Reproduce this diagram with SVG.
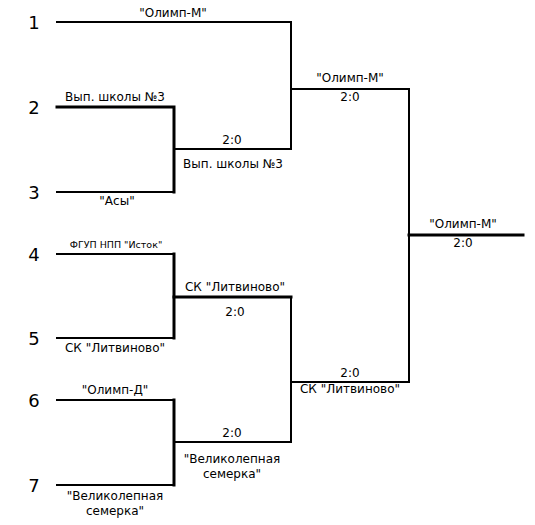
<svg xmlns="http://www.w3.org/2000/svg" width="535" height="525" viewBox="0 0 535 525">
<style>
.bg{fill:#fff}
.ln{stroke:#000;stroke-width:2;fill:none;stroke-linecap:square}
.tk{stroke-width:3}
.num{font-family:"DejaVu Sans","Liberation Sans",sans-serif;font-size:18px;fill:#000;text-anchor:middle}
.lb{font-family:"DejaVu Sans","Liberation Sans",sans-serif;font-size:12px;fill:#000;text-anchor:middle}
.sm{font-size:9.5px}
</style>
<rect class="bg" width="535" height="525"/>
<g id="connectors">
<path class="ln" d="M57 22H291V149H175"/>
<path class="ln tk" d="M57 107H174V192"/>
<path class="ln" d="M57 192H174"/>
<path class="ln" d="M291 89H409V382H291"/>
<path class="ln tk" d="M409 235H523"/>
<path class="ln" d="M57 254H174"/>
<path class="ln tk" d="M174 254V338"/>
<path class="ln" d="M57 338H174"/>
<path class="ln tk" d="M174 297H291"/>
<path class="ln" d="M291 297V442H175"/>
<path class="ln" d="M57 400H174"/>
<path class="ln tk" d="M174 400V485"/>
<path class="ln" d="M57 485H174"/>
</g>
<g id="team1"><text class="num" x="34" y="29">1</text><text class="lb" x="173" y="17">"Олимп-М"</text></g>
<g id="team2"><text class="num" x="34" y="114">2</text><text class="lb" x="115" y="101">Вып. школы №3</text></g>
<g id="team3"><text class="num" x="34" y="199">3</text><text class="lb" x="117" y="205">"Асы"</text></g>
<g id="team4"><text class="num" x="34" y="261">4</text><text class="lb sm" x="116" y="248">ФГУП НПП "Исток"</text></g>
<g id="team5"><text class="num" x="34" y="345">5</text><text class="lb" x="115" y="352">СК "Литвиново"</text></g>
<g id="team6"><text class="num" x="34" y="407">6</text><text class="lb" x="115" y="394">"Олимп-Д"</text></g>
<g id="team7"><text class="num" x="34" y="492">7</text><text class="lb" x="115" y="500">"Великолепная</text><text class="lb" x="115" y="515">семерка"</text></g>
<g id="match23"><text class="lb" x="232" y="144">2:0</text><text class="lb" x="233" y="168">Вып. школы №3</text></g>
<g id="match45"><text class="lb" x="235" y="291">СК "Литвиново"</text><text class="lb" x="235" y="316">2:0</text></g>
<g id="match67"><text class="lb" x="232" y="437">2:0</text><text class="lb" x="232" y="463">"Великолепная</text><text class="lb" x="232" y="478">семерка"</text></g>
<g id="semi1"><text class="lb" x="350" y="82">"Олимп-М"</text><text class="lb" x="350" y="101">2:0</text></g>
<g id="semi2"><text class="lb" x="350" y="377">2:0</text><text class="lb" x="350" y="393">СК "Литвиново"</text></g>
<g id="final"><text class="lb" x="463" y="228">"Олимп-М"</text><text class="lb" x="463" y="247">2:0</text></g>
</svg>
